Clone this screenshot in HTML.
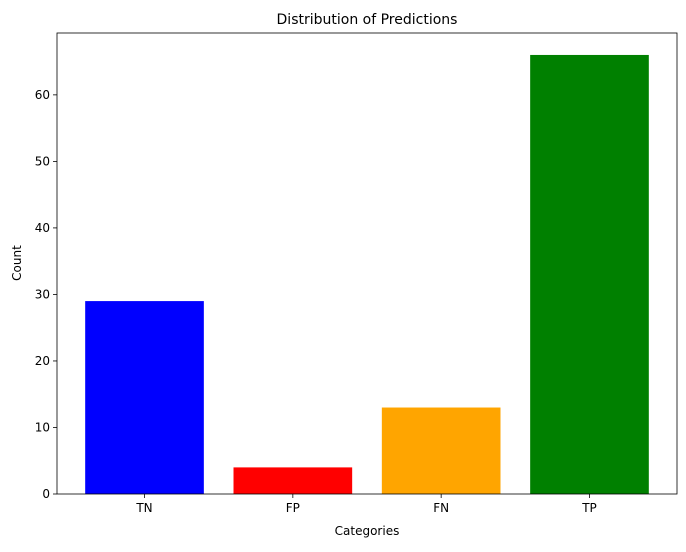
<!DOCTYPE html>
<html><head><meta charset="utf-8"><style>
body{margin:0;background:#fff;font-family:"Liberation Sans","DejaVu Sans",sans-serif;}
svg text{font-family:"DejaVu Sans","Liberation Sans",sans-serif;}
</style></head><body>
<svg id="chart" width="686" height="547" xmlns="http://www.w3.org/2000/svg">
<rect width="686" height="547" fill="#fff"/>
<g id="plot"></g>
<text x="367" y="24" font-size="14" text-anchor="middle">Distribution of Predictions</text>
<text x="367" y="535" font-size="12" text-anchor="middle">Categories</text>
<text x="21" y="263" font-size="12" text-anchor="middle" transform="rotate(-90 21 263)">Count</text>
</svg>
<script>
const categories = ["TN","FP","FN","TP"];
const counts = [29,4,13,66];
const colors = ["blue","red","orange","green"];
const yTicks = [0,10,20,30,40,50,60];

const L=57,R=677,T=33,B=494;
const ns="http://www.w3.org/2000/svg";
const g=document.getElementById('plot');
const maxV=Math.max(...counts)*1.05;
const xMin=-0.59,xMax=categories.length-1+0.59;
const x=v=>L+(v-xMin)/(xMax-xMin)*(R-L);
const y=v=>B-v/maxV*(B-T);
function mk(tag,attrs){const e=document.createElementNS(ns,tag);for(const k in attrs)e.setAttribute(k,attrs[k]);g.appendChild(e);return e;}
counts.forEach((c,i)=>{
  const r=mk('rect',{x:x(i-0.4),y:y(c),width:x(i+0.4)-x(i-0.4),height:B-y(c),fill:colors[i]});
  
  
  const t=mk('line',{x1:x(i),x2:x(i),y1:B,y2:B+4,stroke:'#000','stroke-width':0.8});
  const lb=mk('text',{x:x(i),y:B+18,'font-size':12,'text-anchor':'middle'});
  lb.textContent=categories[i];
  
  
});
yTicks.forEach(v=>{
  mk('line',{x1:L-4,x2:L,y1:y(v),y2:y(v),stroke:'#000','stroke-width':0.8});
  const lb=mk('text',{x:L-7,y:y(v)+4,'font-size':12,'text-anchor':'end'});
  lb.textContent=v;
  
  
});
const fr=mk('rect',{x:L,y:T,width:R-L,height:B-T,fill:'none',stroke:'#000','stroke-width':0.8});


</script>
</body></html>
